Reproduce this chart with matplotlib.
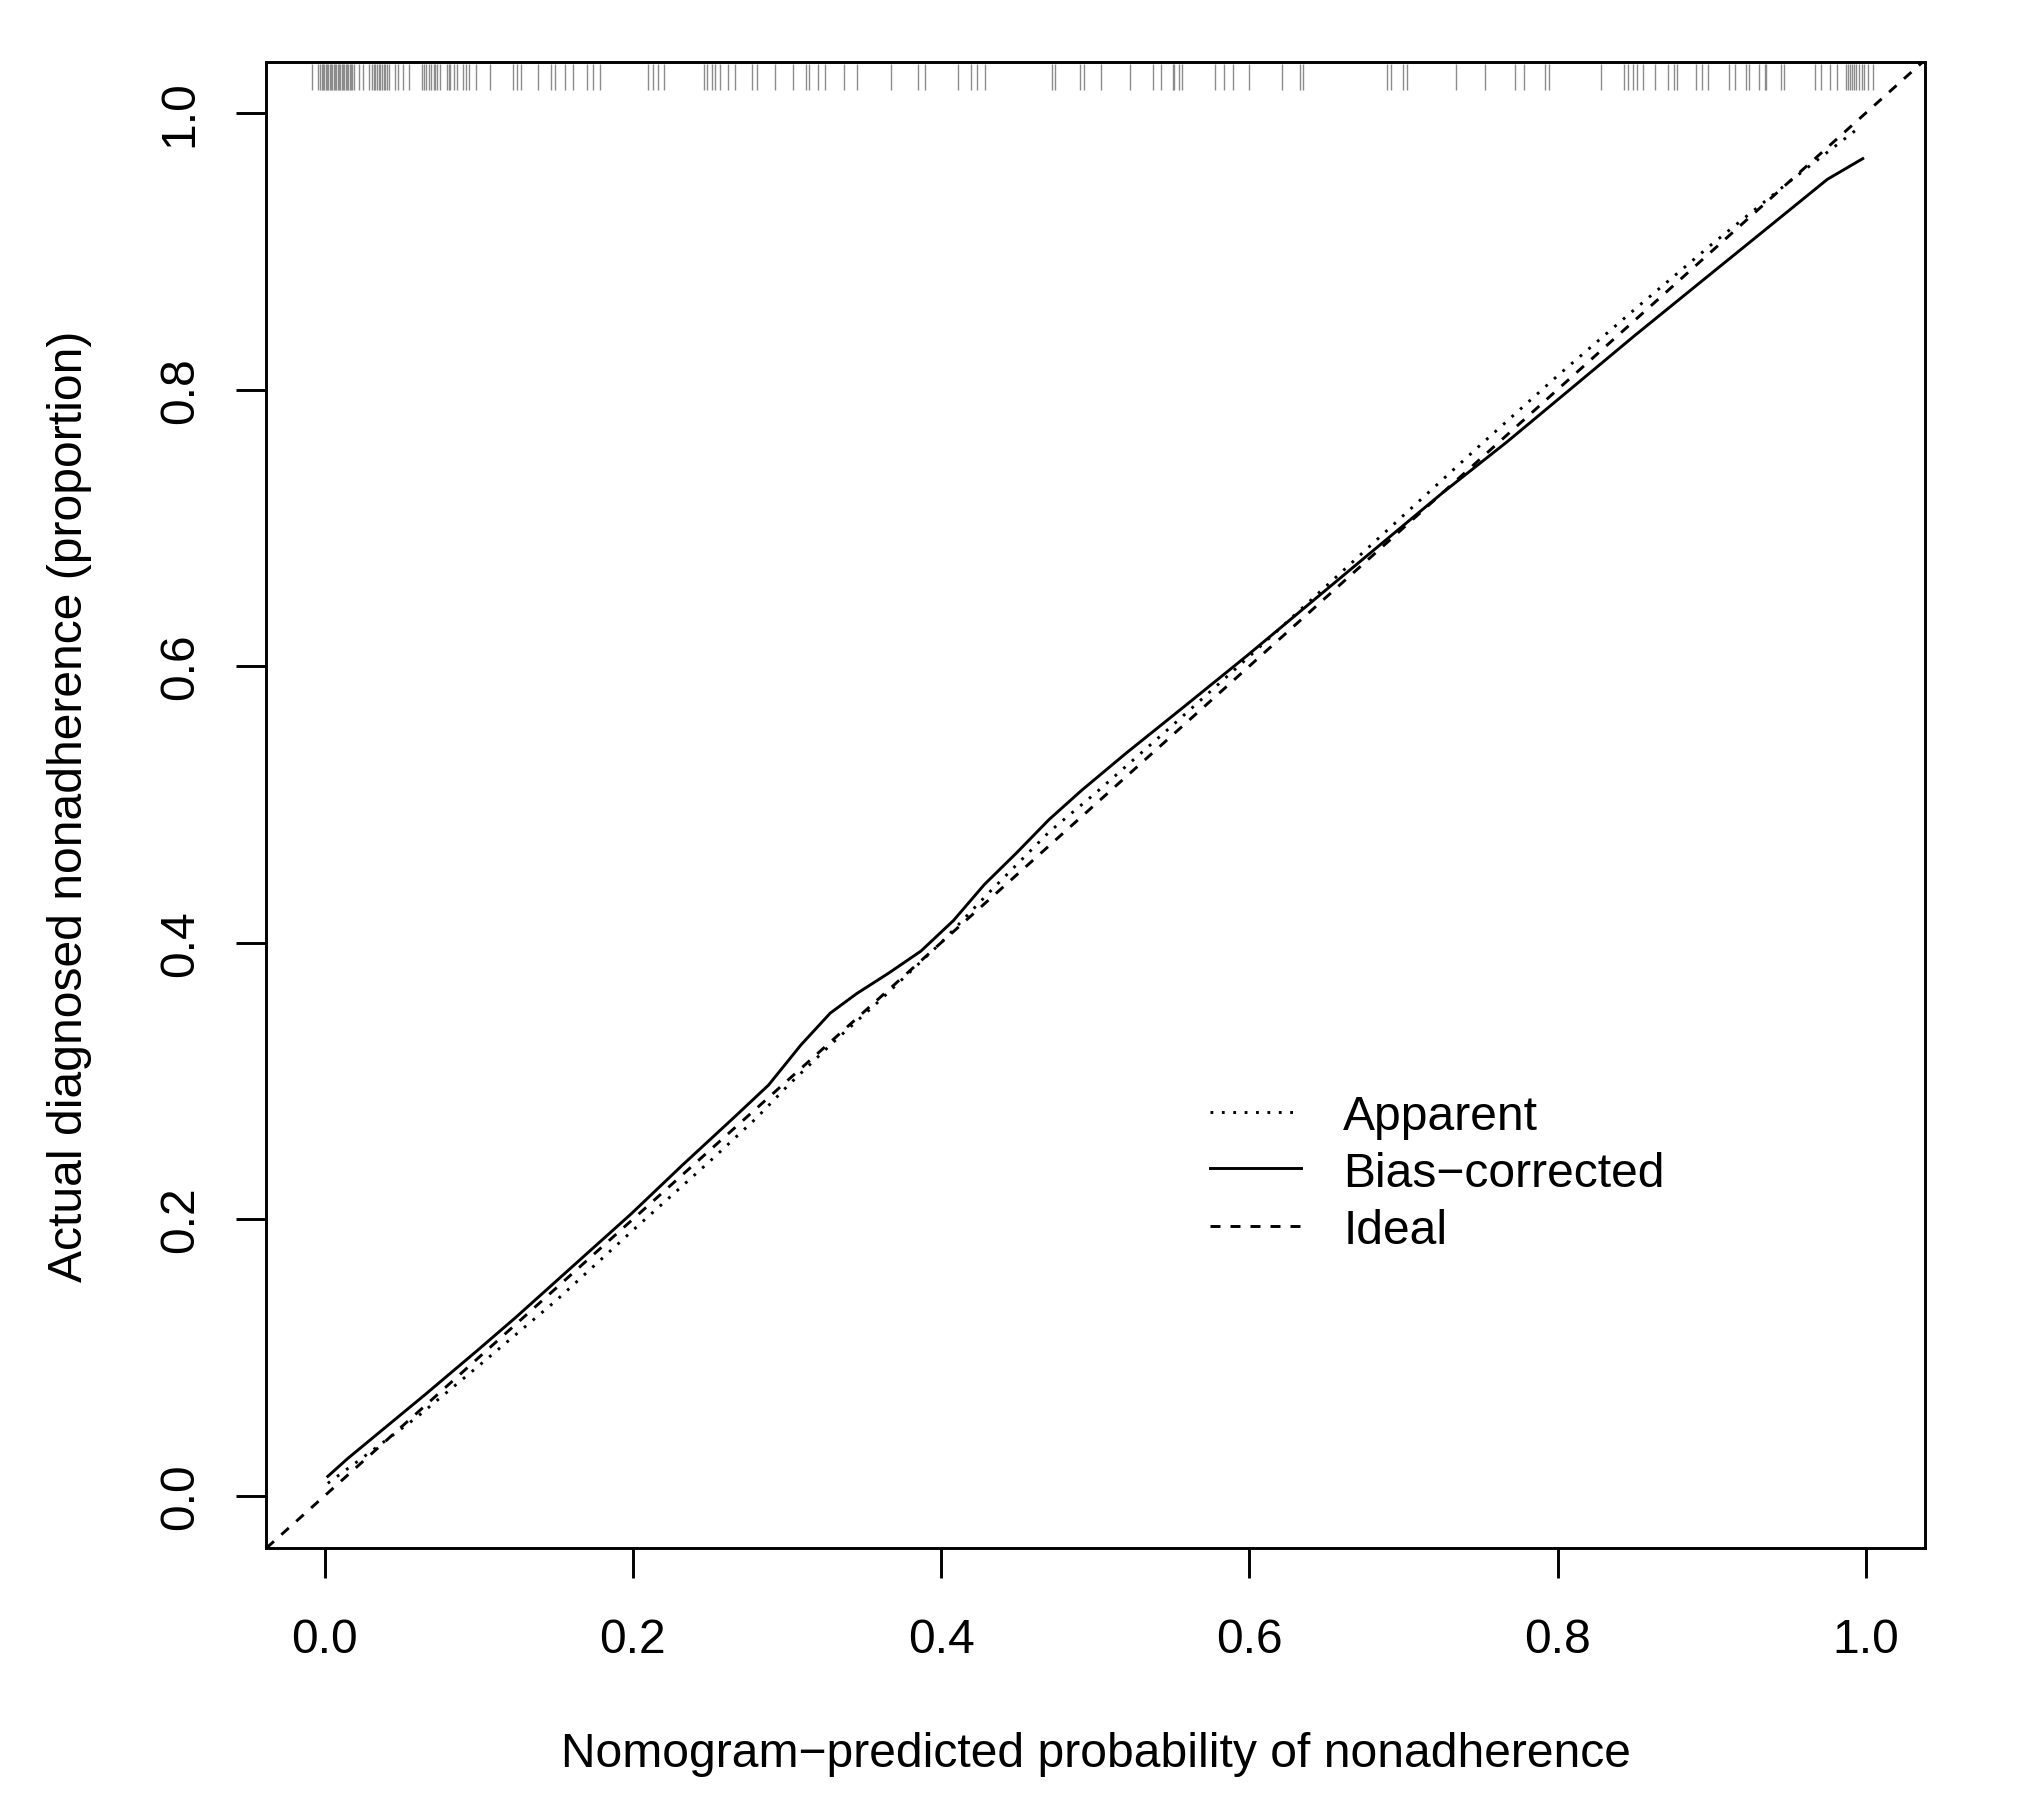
import matplotlib
matplotlib.use("Agg")
import matplotlib.pyplot as plt
from matplotlib.lines import Line2D
from matplotlib.ticker import FormatStrFormatter

plt.rcParams['font.family'] = ['Liberation Sans', 'DejaVu Sans']
plt.rcParams['lines.scale_dashes'] = False

# Bias-corrected calibration curve
bias_x = [0.002, 0.015, 0.040, 0.065, 0.099, 0.124, 0.157, 0.199, 0.232, 0.266, 0.288,
          0.309, 0.328, 0.345, 0.366, 0.387, 0.408, 0.428, 0.449, 0.470, 0.491, 0.520,
          0.558, 0.599, 0.641, 0.683, 0.725, 0.767, 0.808, 0.850, 0.892, 0.933, 0.975, 0.998]
bias_y = [0.014, 0.027, 0.050, 0.073, 0.105, 0.129, 0.162, 0.204, 0.239, 0.274, 0.297,
          0.326, 0.349, 0.363, 0.378, 0.394, 0.416, 0.442, 0.465, 0.489, 0.510, 0.537,
          0.571, 0.608, 0.647, 0.686, 0.725, 0.762, 0.800, 0.839, 0.877, 0.914, 0.952, 0.967]

# Apparent calibration curve
app_x = [0.002, 0.030, 0.060, 0.100, 0.150, 0.200, 0.250, 0.280, 0.300, 0.330, 0.360,
         0.400, 0.430, 0.470, 0.500, 0.550, 0.600, 0.650, 0.700, 0.750, 0.800, 0.850,
         0.900, 0.950, 0.994]
app_y = [0.009, 0.032, 0.057, 0.094, 0.141, 0.192, 0.242, 0.273, 0.296, 0.328, 0.358,
         0.400, 0.435, 0.480, 0.508, 0.557, 0.607, 0.658, 0.709, 0.760, 0.810, 0.858,
         0.905, 0.950, 0.988]

# Distribution of predicted probabilities (rug at top)
rug_x = [-0.0082, -0.0045, -0.0032, -0.0019, -0.0011, -0.0002, 0.0007, 0.0015, 0.0024,
         0.0033, 0.0041, 0.0050, 0.0059, 0.0067, 0.0076, 0.0084, 0.0093, 0.0102, 0.0110,
         0.0119, 0.0128, 0.0136, 0.0145, 0.0154, 0.0162, 0.0171, 0.0180, 0.0188, 0.0223,
         0.0249, 0.0285, 0.0307, 0.0318, 0.0329, 0.0339, 0.0350, 0.0361, 0.0372, 0.0383,
         0.0393, 0.0404, 0.0415, 0.0454, 0.0476, 0.0506, 0.0545, 0.0631, 0.0642, 0.0659,
         0.0674, 0.0689, 0.0707, 0.0717, 0.0728, 0.0750, 0.0793, 0.0804, 0.0815, 0.0836,
         0.0858, 0.0897, 0.0918, 0.0933, 0.0983, 0.1074, 0.1221, 0.1247, 0.1275, 0.1387,
         0.1467, 0.1495, 0.1560, 0.1614, 0.1705, 0.1744, 0.1787, 0.2100, 0.2128, 0.2165,
         0.2204, 0.2461, 0.2478, 0.2511, 0.2532, 0.2564, 0.2619, 0.2662, 0.2770, 0.2802,
         0.2921, 0.3040, 0.3122, 0.3144, 0.3202,
         0.3245, 0.3368, 0.3454, 0.3677, 0.3852, 0.3895, 0.4109, 0.4196, 0.4232, 0.4282,
         0.4720, 0.4738, 0.4904, 0.4926, 0.5038, 0.5226, 0.5373, 0.5425, 0.5502, 0.5509,
         0.5541, 0.5561, 0.5775, 0.5837, 0.5891, 0.5999, 0.6209, 0.6328, 0.6345,
         0.6896, 0.6922, 0.6996, 0.7023, 0.7342, 0.7526, 0.7722, 0.7785, 0.7919, 0.7946,
         0.8281, 0.8429, 0.8460, 0.8487, 0.8516, 0.8554, 0.8632, 0.8717, 0.8755, 0.8773,
         0.8900, 0.8934, 0.8974, 0.9112, 0.9153, 0.9224, 0.9242, 0.9305, 0.9343, 0.9354,
         0.9448, 0.9472, 0.9673, 0.9711, 0.9767, 0.9812, 0.9872, 0.9886, 0.9899, 0.9913,
         0.9926, 0.9939, 0.9957, 0.9975, 0.9991, 1.0013, 1.0047]

x_ticks = [0.0, 0.2, 0.4, 0.6, 0.8, 1.0]
y_ticks = [0.0, 0.2, 0.4, 0.6, 0.8, 1.0]
legend_labels = ["Apparent", "Bias\u2212corrected", "Ideal"]
x_label = "Nomogram\u2212predicted probability of nonadherence"
y_label = "Actual diagnosed nonadherence (proportion)"

FS = 17.3
LW = 1.05
dot_style = (0, (1.0, 3.1))
dash_style = (0, (3.6, 3.6))

fig = plt.figure(figsize=(2022 / 200, 1808 / 200), dpi=200)
ax = fig.add_axes([266 / 2022, 259 / 1808, (1925 - 266) / 2022, (1549 - 62.7) / 1808])

ax.set_xlim(-0.0381, 1.0384)
ax.set_ylim(-0.0378, 1.0371)

ax.vlines(rug_x, 1.0166, 1.0355, colors='#8c8c8c', lw=0.5)
ax.axline((0, 0), slope=1, color='black', lw=LW, linestyle=dash_style)
ax.plot(app_x, app_y, color='black', lw=LW, linestyle=dot_style)
ax.plot(bias_x, bias_y, color='black', lw=LW, linestyle='-')

ax.set_xticks(x_ticks)
ax.set_yticks(y_ticks)
ax.xaxis.set_major_formatter(FormatStrFormatter('%.1f'))
ax.yaxis.set_major_formatter(FormatStrFormatter('%.1f'))
ax.tick_params(axis='both', direction='out', length=10.8, width=1.05, labelsize=FS,
               color='black', labelcolor='black')
ax.tick_params(axis='x', pad=14)
ax.tick_params(axis='y', pad=12)
for lab in ax.get_yticklabels():
    lab.set_rotation(90)
    lab.set_va('center')
for sp in ax.spines.values():
    sp.set_linewidth(1.05)
    sp.set_color('black')

ax.set_xlabel(x_label, fontsize=FS)
ax.set_ylabel(y_label, fontsize=FS)
ax.xaxis.label.set_va('center')
ax.yaxis.label.set_va('center')
ax.xaxis.set_label_coords(0.5, (1549 - 1755) / 1486.3)
ax.yaxis.set_label_coords((70 - 266) / 1659, 0.5)

# Legend (drawn in axes fraction, like R's legend without box)
styles = [dot_style, '-', dash_style]
rows_y = [0.2936, 0.2555, 0.2168]
for lab, st, yy in zip(legend_labels, styles, rows_y):
    ax.add_line(Line2D([0.5693, 0.6238], [yy, yy], transform=ax.transAxes,
                       color='black', lw=LW, linestyle=st))
    ax.text(0.6494, yy, lab, transform=ax.transAxes, fontsize=FS,
            ha='left', va='center_baseline')

fig.savefig("out.png", dpi=200)
